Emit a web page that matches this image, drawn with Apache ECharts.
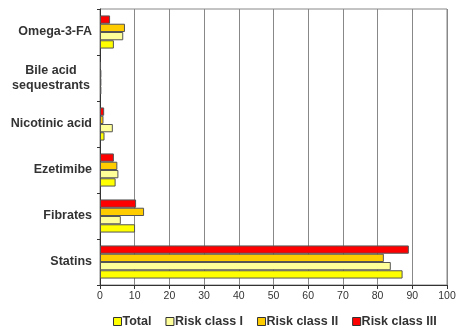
<!DOCTYPE html>
<html>
<head>
  <meta charset="UTF-8">
  <style>
    html, body { margin: 0; padding: 0; background: #fff; }
    #chart { width: 461px; height: 329px; }
  </style>
  <script src="https://cdn.jsdelivr.net/npm/echarts@6/dist/echarts.min.js"></script>
</head>
<body>
<div id="chart"></div>
<script>
  // categories bottom -> top
  var drugs = ['Statins', 'Fibrates', 'Ezetimibe', 'Nicotinic acid', 'Bile acid\nsequestrants', 'Omega-3-FA'];
  var xTicks = [0, 10, 20, 30, 40, 50, 60, 70, 80, 90, 100];

  var total   = [87.2, 10.1, 4.5, 1.3, 0.4, 4.0];
  var riskI   = [83.8, 6.0, 5.3, 3.7, 0.4, 6.7];
  var riskII  = [81.8, 12.7, 5.0, 1.0, 0.4, 7.2];
  var riskIII = [89.0, 10.4, 4.0, 1.2, 0.3, 2.9];

  var names = ['Total', 'Risk class I', 'Risk class II', 'Risk class III'];
  var colors = ['#FFFF00', '#FFFF99', '#FFCC00', '#FF0000'];
  var values = [total, riskI, riskII, riskIII];

  var chart = echarts.init(document.getElementById('chart'));

  // ECharts puts the first series at the top of a band, so add them reversed
  var series = [];
  for (var i = names.length - 1; i >= 0; i--) {
    series.push({
      name: names[i],
      type: 'bar',
      barGap: 0,
      barCategoryGap: '28%',
      itemStyle: {
        color: colors[i],
        borderColor: '#555',
        borderWidth: 1
      },
      data: values[i]
    });
  }

  var option = {
    animation: false,
    color: colors,
    grid: {
      left: 100,
      right: 14,
      top: 9,
      bottom: 44,
      show: true,
      borderColor: '#888',
      borderWidth: 1
    },
    legend: {
      top: 310,
      left: 108,
      itemWidth: 8,
      itemHeight: 8,
      itemGap: 14,
      icon: 'rect',
      textStyle: {
        fontFamily: 'Liberation Sans, Arial',
        fontWeight: 'bold',
        fontSize: 12.5,
        color: '#333',
        padding: [0, 0, 0, -4]
      },
      itemStyle: {
        borderColor: '#333',
        borderWidth: 1
      },
      data: names
    },
    xAxis: {
      type: 'value',
      min: xTicks[0],
      max: xTicks[xTicks.length - 1],
      interval: 10,
      axisLine: { show: true, lineStyle: { color: '#333' } },
      axisTick: { show: true, length: 4, lineStyle: { color: '#333' } },
      splitLine: { show: true, lineStyle: { color: '#888', width: 1 } },
      axisLabel: {
        margin: 6,
        fontFamily: 'Liberation Sans, Arial',
        fontSize: 10.5,
        color: '#333'
      }
    },
    yAxis: {
      type: 'category',
      data: drugs,
      axisLine: { show: true, lineStyle: { color: '#333' } },
      axisTick: { show: true, length: 3, lineStyle: { color: '#333' } },
      axisLabel: {
        margin: 8,
        fontFamily: 'Liberation Sans, Arial',
        fontWeight: 'bold',
        fontSize: 12.5,
        lineHeight: 15,
        align: 'right',
        color: '#333',
        formatter: function (v) {
          if (v.indexOf('\n') >= 0) {
            return v.split('\n').map(function (s) { return '{c|' + s + '}'; }).join('\n');
          }
          return v;
        },
        rich: {
          c: {
            width: 82,
            align: 'center',
            fontFamily: 'Liberation Sans, Arial',
            fontWeight: 'bold',
            fontSize: 12.5,
            lineHeight: 15,
            color: '#333'
          }
        }
      }
    },
    series: series
  };
  chart.setOption(option);
</script>
</body>
</html>
